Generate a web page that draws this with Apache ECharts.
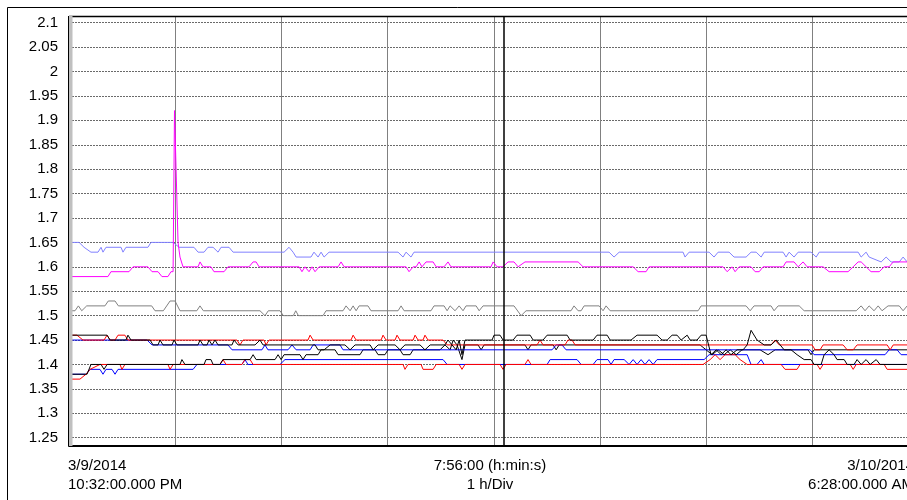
<!DOCTYPE html>
<html>
<head>
<meta charset="utf-8">
<script src="https://cdn.jsdelivr.net/npm/echarts@6/dist/echarts.min.js"></script>
<style>
  html, body { margin: 0; padding: 0; background: #fff; }
  #chart { width: 907px; height: 500px; }
</style>
</head>
<body>
<div id="chart"></div>
<script>
// x values are minutes after 3/9/2014 10:32 PM, 1 h per division
// the window cuts the plot a few minutes before 6:28 AM
var visibleMinutes = 473.4;
var cursorMinute = 245.8;
var yTicks = { min: 1.25, max: 2.1, step: 0.05 };

var startLabel = ['3/9/2014', '10:32:00.000 PM'];
var midLabel = ['7:56:00 (h:min:s)', '1 h/Div'];
var endLabel = ['3/10/2014', '6:28:00.000 AM'];

var lightBlue = [[0,1.65],[5.7,1.65],[8.5,1.64],[12.4,1.63],[16.4,1.63],[18.1,1.64],[19.2,1.63],[20.9,1.64],[29.4,1.64],[30.5,1.63],[32.2,1.64],[44.6,1.64],[46.3,1.65],[58.8,1.65],[62.2,1.64],[70.6,1.64],[72.9,1.63],[76.3,1.63],[78.5,1.64],[81.4,1.64],[84.2,1.63],[85.9,1.64],[90.4,1.64],[92.7,1.63],[121.5,1.63],[124.3,1.64],[126.6,1.63],[128.3,1.62],[136.7,1.62],[138.4,1.63],[140.7,1.62],[142.4,1.63],[144.1,1.62],[146.9,1.63],[185.9,1.63],[188.7,1.62],[190.4,1.63],[193.2,1.62],[194.9,1.63],[305.1,1.63],[307.9,1.62],[310.8,1.63],[346.9,1.63],[348,1.62],[350.3,1.63],[361.6,1.63],[364.4,1.62],[366.7,1.63],[372.9,1.63],[375.7,1.62],[382.5,1.62],[385.3,1.63],[388.2,1.63],[391,1.62],[392.7,1.63],[403.4,1.63],[405.1,1.62],[406.8,1.63],[409.6,1.62],[411.9,1.63],[419.2,1.63],[422.1,1.62],[423.8,1.63],[445.8,1.63],[447.5,1.62],[450.3,1.63],[452,1.62],[458.8,1.61],[461.6,1.62],[464.4,1.61],[469,1.61],[471.2,1.62],[473.5,1.61]];

var magenta = [[0,1.58],[22,1.58],[23.7,1.59],[33.9,1.59],[36.2,1.6],[44.6,1.6],[46.9,1.59],[50.3,1.59],[52.5,1.58],[55.9,1.58],[57.6,1.59],[58.8,1.59],[59.6,1.92],[60.5,1.92],[61.6,1.65],[62.7,1.62],[64.4,1.6],[72.9,1.6],[74,1.61],[75.7,1.6],[80.2,1.6],[81.9,1.59],[87.6,1.59],[89.8,1.6],[101.7,1.6],[104,1.61],[105.7,1.61],[107.4,1.6],[130,1.6],[131.6,1.59],[133.3,1.6],[135.6,1.59],[137.3,1.6],[139,1.59],[141.3,1.6],[152,1.6],[153.7,1.61],[155.4,1.6],[190.4,1.6],[192.1,1.59],[194.4,1.6],[196.1,1.6],[197.8,1.61],[199.4,1.6],[201.7,1.61],[205.7,1.61],[207.4,1.6],[211.9,1.6],[214.1,1.61],[215.8,1.6],[238.4,1.6],[239.6,1.61],[241.8,1.6],[245.2,1.6],[248,1.61],[251.4,1.61],[253.7,1.6],[257.6,1.61],[287.6,1.61],[290.4,1.6],[318.7,1.6],[321.5,1.59],[326,1.59],[327.7,1.6],[369.5,1.6],[371.8,1.59],[374.6,1.6],[376.3,1.59],[378.6,1.6],[385.3,1.6],[387.6,1.59],[389.9,1.59],[392.1,1.6],[403.4,1.6],[405.1,1.61],[409.6,1.61],[411.9,1.6],[414.7,1.61],[417,1.6],[426,1.6],[429.4,1.59],[440.1,1.59],[443,1.6],[445.8,1.61],[447.5,1.61],[450.3,1.6],[453.1,1.59],[457.7,1.59],[460.5,1.6],[463.3,1.6],[465.6,1.61],[473.5,1.61]];

var gray = [[0,1.52],[1.5,1.51],[3.4,1.51],[5.3,1.52],[7.2,1.51],[10,1.52],[20.3,1.52],[22.2,1.53],[26,1.53],[27.9,1.52],[46.7,1.52],[48.6,1.51],[53.3,1.51],[57.1,1.53],[59.9,1.53],[62.7,1.51],[72.2,1.51],[74,1.52],[75.9,1.51],[107.9,1.51],[110.7,1.5],[112.6,1.51],[119.2,1.51],[121.1,1.5],[126.7,1.5],[128.1,1.51],[129.6,1.5],[143.5,1.5],[145.2,1.51],[154.8,1.51],[156.5,1.52],[158.8,1.51],[160.5,1.52],[162.2,1.51],[163.9,1.52],[168.9,1.52],[170.6,1.51],[185.9,1.51],[187.6,1.52],[189.3,1.51],[204.5,1.51],[206.2,1.52],[211.9,1.52],[213.6,1.51],[215.3,1.52],[218.1,1.51],[220.4,1.52],[222.6,1.51],[224.3,1.52],[230,1.52],[231.7,1.51],[233.9,1.52],[251.4,1.52],[255.4,1.5],[258.2,1.51],[283.6,1.51],[285.3,1.52],[287.6,1.51],[289.3,1.51],[291,1.52],[299.5,1.52],[301.7,1.51],[303.4,1.52],[305.7,1.51],[355.4,1.51],[357.1,1.52],[382.5,1.52],[384.8,1.51],[387,1.52],[396.6,1.52],[398.3,1.51],[400.6,1.52],[412.5,1.52],[415.3,1.51],[444.7,1.51],[447.5,1.52],[449.7,1.51],[452,1.52],[454.8,1.51],[457.1,1.52],[459.3,1.51],[462.7,1.52],[469,1.52],[471.2,1.51],[473.5,1.52]];

var redUpper = [[0,1.46],[4.5,1.46],[7.9,1.45],[19.8,1.45],[21.5,1.46],[23.2,1.45],[26,1.45],[27.7,1.46],[31.6,1.46],[33.3,1.45],[94.9,1.45],[96.6,1.44],[98.3,1.45],[110.2,1.45],[111.3,1.44],[113,1.45],[135,1.45],[136.2,1.46],[137.9,1.45],[159.3,1.45],[160.5,1.46],[162.2,1.45],[176.3,1.45],[177.4,1.46],[179.1,1.45],[184.2,1.45],[185.3,1.46],[187,1.45],[194.4,1.45],[195.5,1.46],[197.2,1.45],[200,1.45],[201.1,1.46],[202.8,1.45],[211.3,1.45],[213.6,1.44],[264.4,1.44],[266.1,1.45],[267.8,1.44],[280.2,1.44],[281.9,1.45],[284.2,1.45],[285.9,1.44],[396.6,1.44],[398.9,1.45],[401.2,1.44],[419.8,1.44],[421.5,1.43],[424.3,1.43],[426,1.44],[437.3,1.44],[439.6,1.43],[443,1.43],[445.2,1.44],[462.2,1.44],[463.9,1.43],[465.6,1.44],[473.5,1.44]];

var redLower = [[0,1.37],[6.2,1.37],[9.6,1.38],[11.9,1.39],[17.5,1.4],[28.8,1.4],[29.9,1.39],[31.6,1.4],[55.9,1.4],[57.1,1.39],[58.8,1.4],[85.3,1.4],[87,1.41],[88.7,1.4],[97.7,1.4],[99.4,1.41],[102.3,1.41],[104,1.4],[188.7,1.4],[189.8,1.39],[191.5,1.4],[198.9,1.4],[200,1.39],[205.7,1.39],[207.4,1.4],[220.4,1.4],[222,1.39],[223.7,1.4],[243.5,1.4],[245.2,1.39],[246.9,1.4],[257.6,1.4],[259.3,1.41],[261,1.4],[358.2,1.4],[362.2,1.41],[365,1.42],[367.8,1.41],[370.6,1.42],[376.3,1.42],[379.1,1.41],[383.1,1.4],[402.3,1.4],[404.5,1.39],[411.3,1.39],[413,1.4],[422.6,1.4],[424.3,1.39],[426,1.4],[441.3,1.4],[443,1.39],[444.7,1.4],[460.5,1.4],[462.2,1.39],[473.5,1.39]];

var blueUpper = [[0,1.45],[44.1,1.45],[46.9,1.44],[89.8,1.44],[92.1,1.43],[109,1.43],[110.7,1.44],[112.4,1.43],[123.7,1.43],[126,1.44],[128.3,1.43],[136.2,1.43],[137.9,1.44],[153.1,1.44],[154.8,1.43],[272.9,1.43],[275.2,1.44],[278.5,1.44],[280.8,1.43],[418.7,1.43],[420.9,1.42],[461,1.42],[463.3,1.43],[467.8,1.43],[470.1,1.42],[473.5,1.42]];

var blueLower = [[0,1.38],[9.6,1.38],[11.9,1.39],[17.5,1.39],[19.2,1.38],[20.9,1.39],[24.3,1.39],[26,1.38],[27.7,1.39],[70.1,1.39],[72.3,1.4],[97.7,1.4],[99.4,1.41],[101.1,1.4],[119.2,1.4],[122,1.41],[211.3,1.41],[213.6,1.4],[270.1,1.4],[271.8,1.41],[287,1.41],[289.3,1.4],[296.1,1.4],[298.3,1.41],[304.5,1.41],[306.2,1.4],[307.9,1.41],[313.6,1.41],[316.4,1.4],[318.7,1.41],[320.9,1.4],[323.2,1.41],[325.4,1.4],[327.7,1.41],[330,1.4],[332.2,1.41],[358.8,1.41],[361.6,1.42],[383.1,1.42],[385.3,1.4],[388.7,1.4],[391,1.41],[392.7,1.4],[473.5,1.4]];

var blackUpper = [[0,1.46],[21.5,1.46],[23.2,1.45],[32.2,1.45],[33.3,1.46],[35,1.45],[45.8,1.45],[47.5,1.44],[50.3,1.44],[51.4,1.45],[53.1,1.44],[58.2,1.44],[59.3,1.45],[61,1.44],[72.9,1.44],[74,1.45],[75.7,1.44],[78,1.44],[79.1,1.45],[80.8,1.44],[82.5,1.45],[84.2,1.44],[92.1,1.44],[93.2,1.45],[95.5,1.44],[105.1,1.44],[107.9,1.45],[109.6,1.44],[139,1.44],[140.7,1.43],[144.1,1.43],[147.5,1.44],[155.9,1.44],[158.8,1.43],[161.6,1.44],[170.1,1.44],[171.8,1.43],[174.6,1.44],[184.2,1.44],[187,1.43],[189.8,1.44],[198.3,1.44],[201.1,1.43],[204,1.44],[212.4,1.44],[214.1,1.45],[216.4,1.44],[218.7,1.43],[220.4,1.45],[222,1.42],[223.7,1.45],[239,1.45],[240.1,1.46],[243.5,1.46],[245.2,1.45],[250.9,1.45],[253.1,1.46],[260.5,1.46],[262.2,1.45],[267.8,1.45],[270.1,1.46],[281.4,1.46],[283.1,1.45],[296.1,1.45],[298.3,1.46],[304,1.46],[305.7,1.45],[317.5,1.45],[320.9,1.46],[332.2,1.46],[335,1.45],[337.9,1.45],[340.7,1.46],[343.5,1.46],[345.8,1.45],[349.2,1.46],[350.9,1.45],[354.8,1.45],[357.1,1.46],[359.9,1.46],[362.7,1.42],[365.6,1.43],[368.4,1.42],[371.2,1.43],[374,1.42],[377.4,1.43],[380.8,1.43],[383.1,1.44],[385.3,1.47],[388.7,1.45],[392.7,1.44],[396.6,1.44],[399.5,1.45],[404,1.43],[407.9,1.43],[411.3,1.42],[415.3,1.41],[419.2,1.41],[420.9,1.4],[424.9,1.4],[426.6,1.42],[429.4,1.43],[432.2,1.42],[433.9,1.41],[437.9,1.41],[439.6,1.4],[443.5,1.4],[445.2,1.41],[447.5,1.4],[450.3,1.41],[452.6,1.4],[456,1.41],[458.2,1.4],[473.5,1.4]];

var blackLower = [[0,1.38],[10.2,1.38],[12.4,1.4],[18.1,1.4],[19.8,1.39],[21.5,1.4],[62.7,1.4],[63.8,1.41],[65.5,1.4],[76.3,1.4],[77.4,1.41],[80.2,1.41],[81.4,1.4],[85.3,1.4],[87,1.41],[102.3,1.41],[104,1.42],[105.7,1.41],[116.4,1.41],[118.1,1.42],[119.8,1.41],[121.5,1.42],[130.5,1.42],[132.2,1.41],[133.9,1.42],[140.7,1.42],[142.4,1.43],[150.3,1.43],[152,1.42],[164.4,1.42],[166.1,1.43],[172.9,1.43],[174.6,1.42],[178.5,1.42],[180.2,1.43],[187,1.43],[188.7,1.42],[192.7,1.42],[194.4,1.43],[209.6,1.43],[212.4,1.44],[215.3,1.43],[217,1.45],[219.2,1.44],[222,1.41],[223.7,1.44],[231.1,1.44],[232.8,1.43],[234.5,1.44],[257.6,1.44],[259.3,1.43],[261,1.44],[273.5,1.44],[275.2,1.43],[276.9,1.44],[356.5,1.44],[359.9,1.43],[363.3,1.42],[366.7,1.43],[370.1,1.42],[373.5,1.43],[376.9,1.42],[380.2,1.43],[390.4,1.43],[394.9,1.42],[398.9,1.43],[417.5,1.43],[419.2,1.42],[420.9,1.43],[473.5,1.43]];

var traces = [
    { name: 'A', data: lightBlue, color: '#8080ff' },
    { name: 'B', data: magenta, color: '#ff00ff' },
    { name: 'C', data: gray, color: '#808080' },
    { name: 'D', data: blueLower, color: '#0000ff' },
    { name: 'E', data: redLower, color: '#ff0000' },
    { name: 'F', data: blackLower, color: '#000000' },
    { name: 'G', data: blueUpper, color: '#0000ff' },
    { name: 'H', data: redUpper, color: '#ff0000' },
    { name: 'I', data: blackUpper, color: '#000000' }
];

var font = '"Liberation Sans", Arial, sans-serif';
var chart = echarts.init(document.getElementById('chart'), null, { renderer: 'canvas' });

var series = traces.map(function (t) {
    return {
        name: t.name,
        type: 'line',
        xAxisIndex: 0,
        yAxisIndex: 0,
        data: t.data,
        showSymbol: false,
        symbol: 'none',
        lineStyle: { color: t.color, width: 1 },
        silent: true
    };
});
// cursor line over the full plot height
series.push({
    type: 'line',
    xAxisIndex: 1,
    yAxisIndex: 1,
    data: [],
    silent: true,
    markLine: {
        symbol: 'none',
        silent: true,
        label: { show: false },
        lineStyle: { color: '#000', width: 1.5, type: 'solid' },
        data: [{ xAxis: cursorMinute }]
    }
});

function textLines(x, lines, align) {
    return lines.map(function (s, i) {
        return {
            type: 'text',
            x: x,
            y: 466 + i * 19,
            style: {
                text: s,
                fill: '#000',
                font: '15px ' + font,
                textAlign: align,
                textVerticalAlign: 'middle'
            }
        };
    });
}

var options = {
    animation: false,
    backgroundColor: '#fff',
    grid: [
        { left: 69, right: 0, top: 22.7, bottom: 62.3 },
        { left: 69, right: 0, top: 17, bottom: 54 }
    ],
    xAxis: [{
        gridIndex: 0,
        type: 'value',
        min: 0,
        max: visibleMinutes,
        show: false
    }, {
        gridIndex: 1,
        type: 'value',
        min: 0,
        max: visibleMinutes,
        interval: 60,
        axisLine: { show: true, lineStyle: { color: '#000', width: 2 } },
        axisTick: { show: false },
        axisLabel: { show: false },
        splitLine: { show: true, lineStyle: { color: '#808080', width: 1 } }
    }],
    yAxis: [{
        gridIndex: 0,
        type: 'value',
        min: yTicks.min,
        max: yTicks.max,
        interval: yTicks.step,
        axisLine: { show: false },
        axisTick: { show: false },
        axisLabel: {
            margin: 11,
            color: '#000',
            fontSize: 15,
            fontFamily: font,
            formatter: function (v) { return String(+v.toFixed(2)); }
        },
        splitLine: { show: true, lineStyle: { color: '#6a6a6a', width: 1, type: [2, 1] } }
    }, {
        gridIndex: 1,
        type: 'value',
        min: 0,
        max: 1,
        show: false
    }],
    graphic: [
        // outer frame
        { type: 'rect', shape: { x: 7.5, y: 7.5, width: 930, height: 520 }, style: { fill: 'none', stroke: '#000', lineWidth: 1 }, silent: true },
        // plot top border
        { type: 'line', shape: { x1: 69, y1: 16.5, x2: 912, y2: 16.5 }, style: { stroke: '#000', lineWidth: 1.5 }, silent: true, z: 10 },
        // left edge of the plot
        { type: 'rect', shape: { x: 69, y: 16, width: 3.5, height: 430 }, style: { fill: '#c0c0c0' }, silent: true, z: 10 },
        { type: 'line', shape: { x1: 68.5, y1: 16, x2: 68.5, y2: 446 }, style: { stroke: '#000', lineWidth: 1 }, silent: true, z: 10 }
    ].concat(textLines(68, startLabel, 'left'))
     .concat(textLines(490, midLabel, 'center'))
     .concat(textLines(914, endLabel, 'right')),
    series: series
};
chart.setOption(options);
window.onresize = function () {
    chart.resize();
};
</script>
</body>
</html>
